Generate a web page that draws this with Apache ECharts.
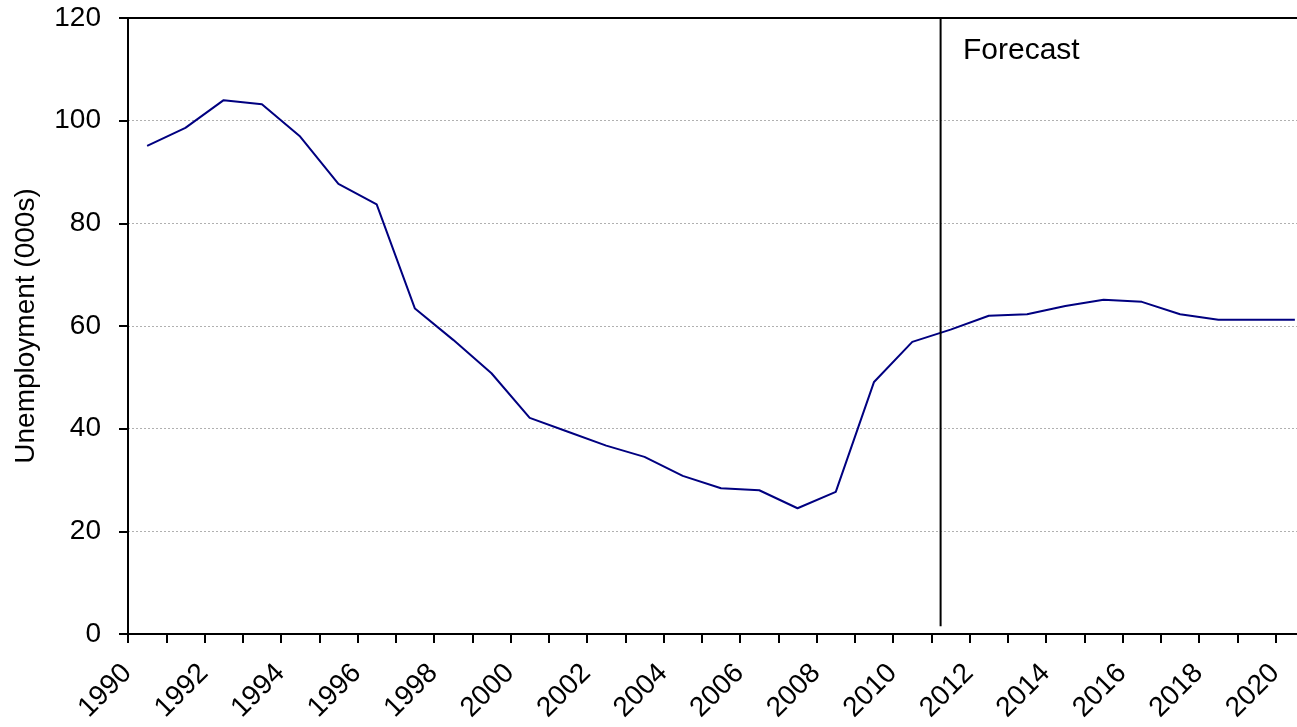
<!DOCTYPE html>
<html>
<head>
<meta charset="utf-8">
<script src="https://cdn.jsdelivr.net/npm/echarts@6/dist/echarts.min.js"></script>
<style>
  html, body { margin: 0; padding: 0; background: #fff; overflow: hidden; }
  /* plot area runs past the right edge of the window, as in the reference */
  #chart { width: 1330px; height: 727px; }
</style>
</head>
<body>
<div id="chart"></div>
<script>
const years = [];
for (let y = 1990; y <= 2020; y++) years.push(String(y));

// unemployment, thousands (1990-2020)
const unemployment = [
  95.1, 98.6, 104.0, 103.2, 96.9, 87.7, 83.7, 63.4, 57.3, 50.8,
  42.1, 39.4, 36.7, 34.5, 30.8, 28.4, 28.0, 24.5, 27.7, 49.1,
  56.9, 59.3, 62.0, 62.3, 63.9, 65.1, 64.7, 62.3, 61.2, 61.2, 61.2
];

// forecast divider, in fractional years on the continuous axis
const forecastYear = 2010.74;
const forecastLine = [[forecastYear, 1.5], [forecastYear, 120]];

const yTicks = [0, 20, 40, 60, 80, 100, 120];

const font = "'Liberation Sans', Arial, sans-serif";
const chart = echarts.init(document.getElementById("chart"), null, { renderer: "canvas" });

chart.setOption({
  animation: false,
  backgroundColor: "#fff",
  grid: { left: 128, top: 18, width: 1186, height: 616, containLabel: false },
  xAxis: [
    {
      type: "category",
      data: years,
      boundaryGap: true,
      position: "bottom",
      axisLine: { lineStyle: { color: "#000", width: 2 } },
      axisTick: { show: true, interval: 0, length: 9, lineStyle: { color: "#000", width: 2 } },
      axisLabel: {
        interval: 1,
        rotate: 45,
        margin: 15,
        padding: [0, 28, 0, 0],
        color: "#000",
        fontSize: 28,
        fontFamily: font
      },
      splitLine: { show: false }
    },
    {
      type: "value",
      min: 1989.5,
      max: 2020.5,
      position: "top",
      axisLine: { show: true, onZero: false, lineStyle: { color: "#000", width: 2 } },
      axisTick: { show: false },
      axisLabel: { show: false },
      splitLine: { show: false }
    }
  ],
  yAxis: {
    type: "value",
    min: yTicks[0],
    max: yTicks[yTicks.length - 1],
    interval: 20,
    name: "Unemployment (000s)",
    nameLocation: "middle",
    nameGap: 88,
    nameTextStyle: { color: "#000", fontSize: 28, fontFamily: font },
    axisLine: { show: true, lineStyle: { color: "#000", width: 2 } },
    axisTick: { show: true, length: 9, lineStyle: { color: "#000", width: 2 } },
    axisLabel: { color: "#000", fontSize: 28, fontFamily: font, margin: 27 },
    splitLine: { show: true, lineStyle: { color: "#b0b0b0", width: 1, type: [2, 2] } }
  },
  series: [
    {
      type: "line",
      data: unemployment,
      xAxisIndex: 0,
      showSymbol: false,
      lineStyle: { color: "#000080", width: 2 }
    },
    {
      type: "line",
      data: forecastLine,
      xAxisIndex: 1,
      showSymbol: false,
      lineStyle: { color: "#000", width: 2 },
      z: 3
    }
  ],
  graphic: [
    {
      type: "text",
      left: 963,
      top: 36,
      style: { text: "Forecast", fill: "#000", font: "30px " + font }
    }
  ]
});
</script>
</body>
</html>
